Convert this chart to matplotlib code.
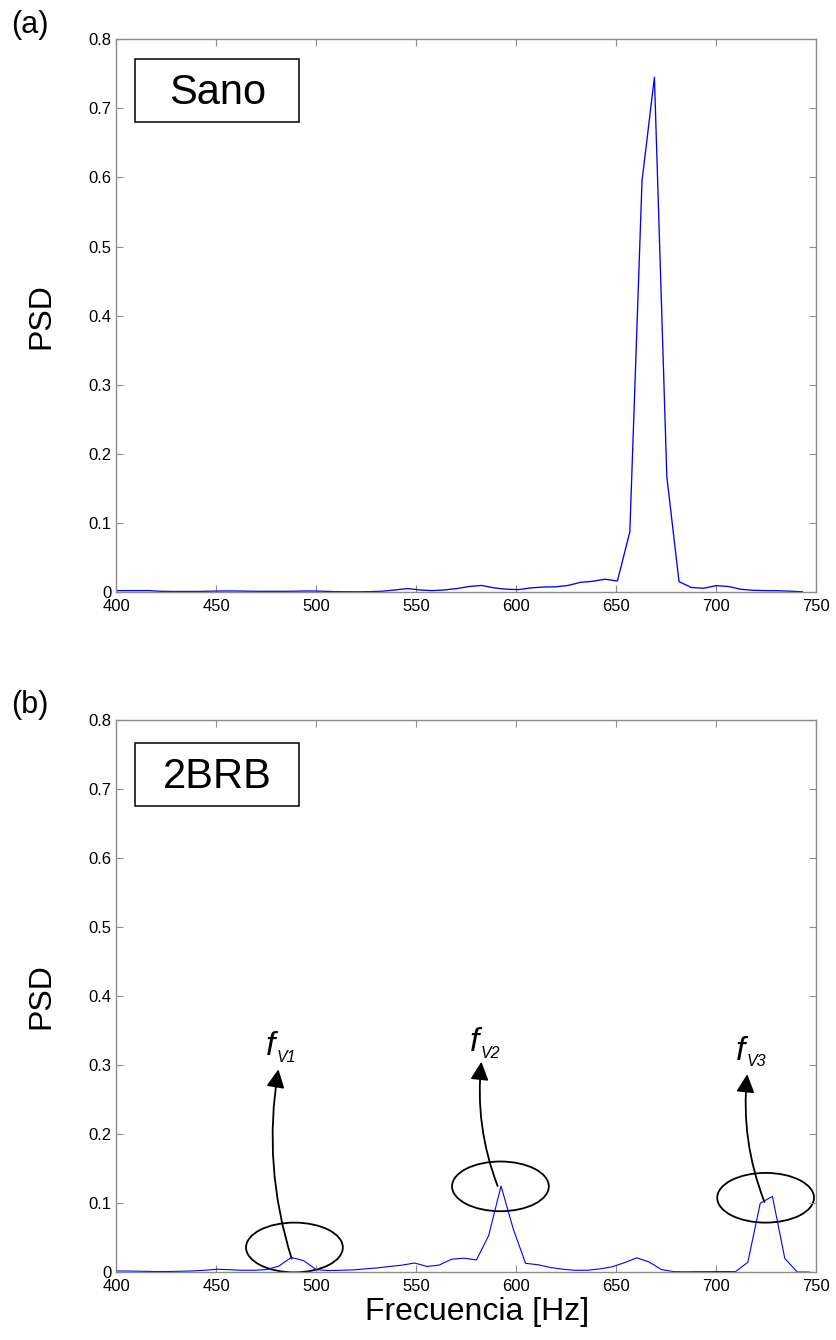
import matplotlib
matplotlib.use("Agg")
import matplotlib.pyplot as plt
from matplotlib.patches import Ellipse, Rectangle, FancyArrowPatch
from matplotlib.transforms import offset_copy

plt.rcParams['font.family'] = ['Liberation Sans', 'DejaVu Sans']

# (a) healthy motor spectrum
freq_a = [397.7, 403.9, 410.1, 416.2, 422.4, 428.6, 434.8, 440.9, 447.1, 453.3,
          459.4, 465.6, 471.8, 477.9, 484.1, 490.3, 496.4, 502.6, 508.8, 514.9,
          521.1, 527.3, 533.5, 539.6, 545.8, 551.9, 558.1, 564.3, 570.5, 576.6,
          582.8, 589.0, 595.2, 601.3, 607.5, 613.7, 619.8, 626.0, 632.2, 638.3,
          644.5, 650.7, 656.9, 663.0, 669.2, 675.4, 681.5, 687.7, 693.9, 700.1,
          706.2, 712.4, 718.6, 724.7, 730.9, 737.1, 743.2]
psd_a = [0.002, 0.002, 0.002, 0.002, 0.001, 0.0008, 0.0008, 0.0008, 0.0012, 0.0015,
         0.0015, 0.0012, 0.001, 0.001, 0.001, 0.0012, 0.0015, 0.0012, 0.0006, 0.0004,
         0.0003, 0.0006, 0.0012, 0.003, 0.005, 0.003, 0.002, 0.003, 0.005, 0.008,
         0.0095, 0.006, 0.004, 0.0035, 0.006, 0.0072, 0.0075, 0.0095, 0.014, 0.0155,
         0.0185, 0.016, 0.087, 0.595, 0.745, 0.167, 0.015, 0.0065, 0.0055, 0.0092,
         0.008, 0.004, 0.0025, 0.002, 0.0018, 0.0012, 0.0003]

# (b) two broken rotor bars
freq_b = [395.1, 401.2, 407.4, 413.6, 419.7, 425.9, 432.1, 438.3, 444.4, 450.6,
          456.8, 462.9, 469.1, 475.3, 481.4, 487.6, 493.8, 500.0, 506.1, 512.3,
          518.5, 524.6, 530.8, 537.0, 543.1, 549.3, 555.5, 561.6, 567.8, 574.0,
          580.2, 586.3, 592.5, 598.7, 604.8, 611.0, 617.2, 623.4, 629.5, 635.7,
          641.9, 648.0, 654.2, 660.4, 666.5, 672.7, 678.9, 685.1, 691.2, 697.4,
          703.6, 709.7, 715.9, 722.1, 728.2, 734.4, 740.6, 746.8]
psd_b = [0.002, 0.002, 0.0018, 0.0015, 0.0012, 0.0012, 0.0015, 0.002, 0.003, 0.0045,
         0.0038, 0.003, 0.003, 0.004, 0.009, 0.0215, 0.017, 0.004, 0.0025, 0.003,
         0.0035, 0.005, 0.0065, 0.0085, 0.0105, 0.0135, 0.0085, 0.0105, 0.019, 0.0205,
         0.018, 0.053, 0.125, 0.062, 0.013, 0.011, 0.007, 0.0045, 0.003, 0.003,
         0.005, 0.008, 0.014, 0.021, 0.015, 0.004, 0.001, 0.0008, 0.001, 0.001,
         0.0012, 0.001, 0.0145, 0.100, 0.110, 0.020, 0.0005, 0.0003]

# sideband markers: peak (tail), arrow tip, label anchor, ellipse centre
fv_names = ['V1', 'V2', 'V3']
fv_tail = [(487.8, 0.020), (590.8, 0.125), (724.2, 0.102)]
fv_tip = [(481.2, 0.294), (582.7, 0.305), (715.6, 0.287)]
fv_label = [(475.0, 0.3145), (576.9, 0.320), (709.9, 0.308)]
fv_ellipse = [(489.2, 0.036), (592.2, 0.1245), (724.8, 0.108)]

xticks = [400, 450, 500, 550, 600, 650, 700, 750]
yticks = [0, 0.1, 0.2, 0.3, 0.4, 0.5, 0.6, 0.7, 0.8]
ytick_labels = ['0', '0.1', '0.2', '0.3', '0.4', '0.5', '0.6', '0.7', '0.8']

axis_gray = '#8c8c8c'

fig = plt.figure(figsize=(8.36, 13.4), dpi=100)
ax_a = fig.add_axes([0.1388, 0.5582, 0.8373, 0.4125])
ax_b = fig.add_axes([0.1388, 0.0505, 0.8373, 0.4122])


def style_axis(ax):
    ax.set_xlim(400, 750)
    ax.set_ylim(0, 0.8)
    ax.set_xticks(xticks)
    ax.set_yticks(yticks)
    ax.set_yticklabels(ytick_labels)
    ax.tick_params(direction='in', length=5, width=0.8, color=axis_gray,
                   top=True, right=True, labelsize=12, labelcolor='black')
    ax.tick_params(axis='x', pad=5)
    ax.tick_params(axis='y', pad=3)
    for sp in ax.spines.values():
        sp.set_color(axis_gray)
        sp.set_linewidth(1.0)
    ax.set_ylabel('PSD', fontsize=23)
    ax.yaxis.set_label_coords(-0.085, 0.5)


style_axis(ax_a)
style_axis(ax_b)

ax_a.plot(freq_a, psd_a, color='#0000ff', lw=0.95)
ax_b.plot(freq_b, psd_b, color='#0000ff', lw=0.8)

# title boxes
for ax, name, y0, base in [(ax_a, 'Sano', 0.8498, 0.883), (ax_b, '2BRB', 0.845, 0.876)]:
    ax.add_patch(Rectangle((0.027, y0), 0.235, 0.114, transform=ax.transAxes,
                           fill=False, edgecolor='black', lw=1.1, zorder=5))
    ax.text(0.1445, base, name, transform=ax.transAxes, fontsize=30,
            ha='center', va='baseline', zorder=6)

# circled sidebands with curved arrows
for name, tail, tip, lab, cen in zip(fv_names, fv_tail, fv_tip, fv_label, fv_ellipse):
    ax_b.add_patch(Ellipse(cen, 48.4, 0.072, fill=False, edgecolor='black', lw=1.3))
    ax_b.add_patch(FancyArrowPatch(tail, tip, connectionstyle='arc3,rad=-0.12',
                                   arrowstyle='-|>,head_length=11,head_width=5.5',
                                   color='black', lw=1.3, shrinkA=0, shrinkB=0))
    ax_b.text(lab[0], lab[1], 'f', fontsize=24, style='italic',
              ha='left', va='baseline')
    sub_tr = offset_copy(ax_b.transData, fig=fig, x=7.5, y=-4.8, units='points')
    ax_b.text(lab[0], lab[1], name, transform=sub_tr, fontsize=11.5,
              style='italic', ha='left', va='baseline')

ax_b.set_xlabel('Frecuencia [Hz]', fontsize=23)
ax_b.xaxis.set_label_coords(0.516, -0.044)
ax_b.xaxis.label.set_va('top')

fig.text(11 / 836, 1 - 33 / 1340, '(a)', fontsize=22, ha='left', va='baseline')
fig.text(11 / 836, 1 - 712.5 / 1340, '(b)', fontsize=22, ha='left', va='baseline')

fig.savefig('out.png', dpi=100)
